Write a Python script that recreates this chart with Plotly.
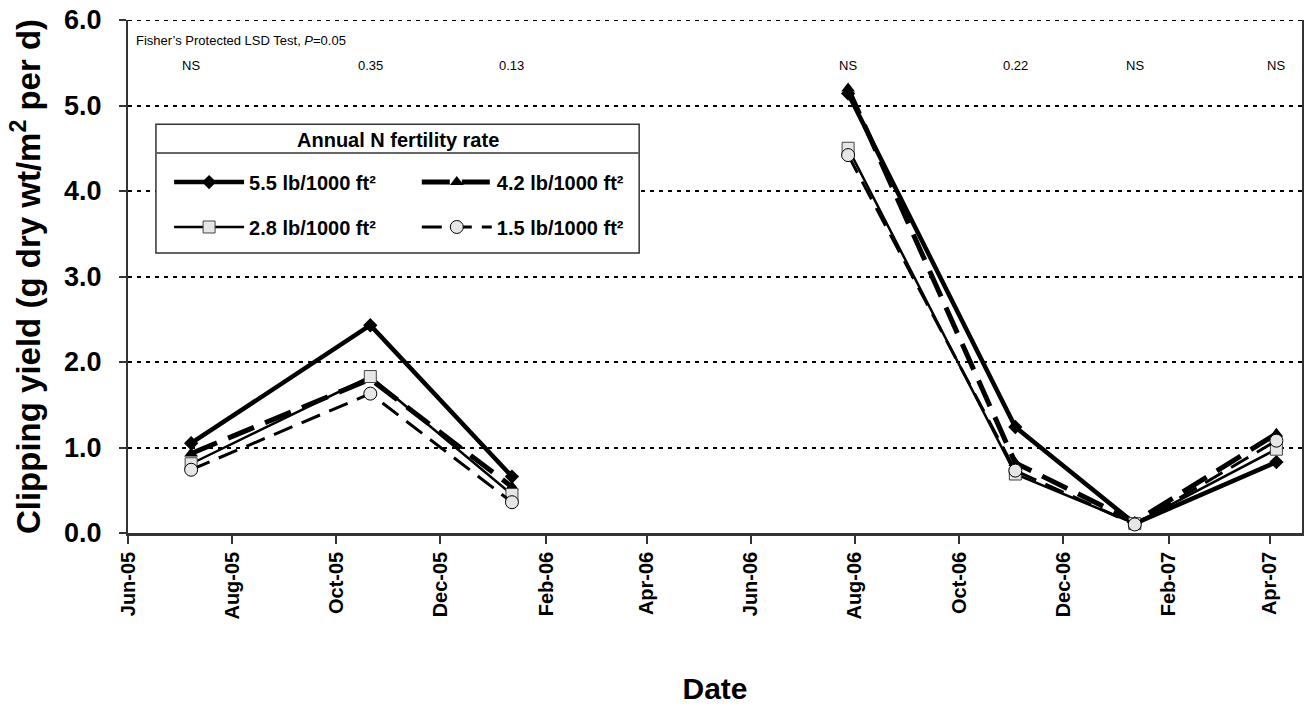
import plotly.graph_objects as go

# Sampling dates and mean clipping yields (g dry wt/m^2 per d) per annual N rate
dates = ["2005-07-08", "2005-10-21", "2006-01-12", "2006-07-28",
         "2006-11-03", "2007-01-12", "2007-04-05"]
rate_55 = [1.05, 2.43, 0.66, 5.14, 1.24, 0.11, 0.83]
rate_42 = [0.93, 1.80, 0.54, 5.20, 0.82, 0.13, 1.16]
rate_28 = [0.81, 1.83, 0.45, 4.50, 0.69, 0.11, 0.98]
rate_15 = [0.74, 1.63, 0.36, 4.42, 0.73, 0.10, 1.08]

# Fisher's protected LSD (P=0.05) for each sampling date
lsd_labels = ["NS", "0.35", "0.13", "NS", "0.22", "NS", "NS"]

series_names = ["5.5 lb/1000 ft²", "4.2 lb/1000 ft²",
                "2.8 lb/1000 ft²", "1.5 lb/1000 ft²"]

# the two growing seasons are not joined: break the lines after the third date
SEASON_BREAK = 3


def with_break(values):
    return list(values[:SEASON_BREAK]) + [None] + list(values[SEASON_BREAK:])


FONT = "Liberation Sans, Arial, sans-serif"
NARROW = "Liberation Sans Narrow, Liberation Sans, Arial, sans-serif"
FILL = "#e6e6e6"

fig = go.Figure()

styles = [
    dict(y=rate_55, line=dict(color="black", width=4.5),
         marker=dict(symbol="diamond", size=11, color="black"), legend="legend"),
    dict(y=rate_42, line=dict(color="black", width=5, dash="28px,12px"),
         marker=dict(symbol="triangle-up", size=12, color="black"), legend="legend2"),
    dict(y=rate_28, line=dict(color="black", width=2.5),
         marker=dict(symbol="square", size=12, color=FILL,
                     line=dict(color="#444444", width=1)), legend="legend3"),
    dict(y=rate_15, line=dict(color="black", width=3, dash="20px,10px"),
         marker=dict(symbol="circle", size=13, color=FILL,
                     line=dict(color="black", width=1)), legend="legend4"),
]

for name, st in zip(series_names, styles):
    fig.add_trace(go.Scatter(
        x=with_break(dates), y=with_break(st["y"]), name=name, mode="lines+markers",
        connectgaps=False, line=st["line"], marker=st["marker"], legend=st["legend"],
    ))

# LSD values printed above each sampling date
for d, lab in zip(dates, lsd_labels):
    fig.add_annotation(x=d, y=5.47, xref="x", yref="y", text=lab, yanchor="middle",
                       showarrow=False, font=dict(family=NARROW, size=13, color="black"))

fig.add_annotation(x=0.005, y=0.961, xref="paper", yref="paper",
                   xanchor="left", yanchor="middle",
                   text="Fisher’s Protected LSD Test, <i>P</i>=0.05", showarrow=False,
                   font=dict(family=NARROW, size=13, color="black"))

# dashed line along the top of the plot area (6.0 level)
fig.add_shape(type="line", xref="paper", yref="y", x0=0, x1=1, y0=6, y1=6,
              line=dict(color="black", width=2, dash="4px,5px"), layer="above")

# Legend frame with a header bar
fig.add_shape(type="rect", xref="paper", yref="paper",
              x0=0.0238, x1=0.4354, y0=0.5458, y1=0.797,
              fillcolor="white", line=dict(color="#333333", width=1.5), layer="above")
fig.add_shape(type="line", xref="paper", yref="paper",
              x0=0.0238, x1=0.4354, y0=0.7407, y1=0.7407,
              line=dict(color="#666666", width=2), layer="above")
fig.add_annotation(x=0.2296, y=0.767, xref="paper", yref="paper",
                   xanchor="center", yanchor="middle",
                   text="<b>Annual N fertility rate</b>", showarrow=False,
                   font=dict(family=FONT, size=20, color="black"))

legend_common = dict(bgcolor="rgba(0,0,0,0)", borderwidth=0, itemwidth=70,
                     xanchor="left", yanchor="middle",
                     font=dict(family=FONT, size=20, color="black", weight="bold"))
row1, row2 = 0.684, 0.5965
col1, col2 = 0.035, 0.246
fig.update_layout(
    legend=dict(x=col1, y=row1, **legend_common),
    legend2=dict(x=col2, y=row1, **legend_common),
    legend3=dict(x=col1, y=row2, **legend_common),
    legend4=dict(x=col2, y=row2, **legend_common),
)

fig.update_xaxes(
    type="date", range=["2005-06-01", "2007-04-20"],
    tick0="2005-06-01", dtick="M2", tickformat="%b-%y", tickangle=-90,
    ticks="outside", ticklen=8, tickwidth=1.5, tickcolor="#333333",
    showline=True, linecolor="#333333", linewidth=2.5, showgrid=False,
    tickfont=dict(family=FONT, size=20, color="black", weight="bold"),
    title=dict(text="<b>Date</b>", standoff=60,
               font=dict(family=FONT, size=30, color="black")),
)
fig.update_yaxes(
    range=[0, 6], dtick=1, tickformat=".1f",
    ticks="outside", ticklen=7, tickwidth=1.5, tickcolor="#333333",
    ticklabelstandoff=12,
    showline=True, mirror=True, linecolor="#333333", linewidth=2,
    showgrid=True, gridcolor="black", gridwidth=1.5, griddash="4px,5px",
    zeroline=False,
    tickfont=dict(family=FONT, size=27, color="black", weight="bold"),
    title=dict(text="<b>Clipping yield (g dry wt/m<sup>2</sup> per d)</b>", standoff=14,
               font=dict(family=FONT, size=33, color="black")),
)

fig.update_layout(
    width=1307, height=711,
    margin=dict(l=128, r=3, t=20, b=178),
    plot_bgcolor="white", paper_bgcolor="white",
    showlegend=True,
)

fig.write_html("out.html")
